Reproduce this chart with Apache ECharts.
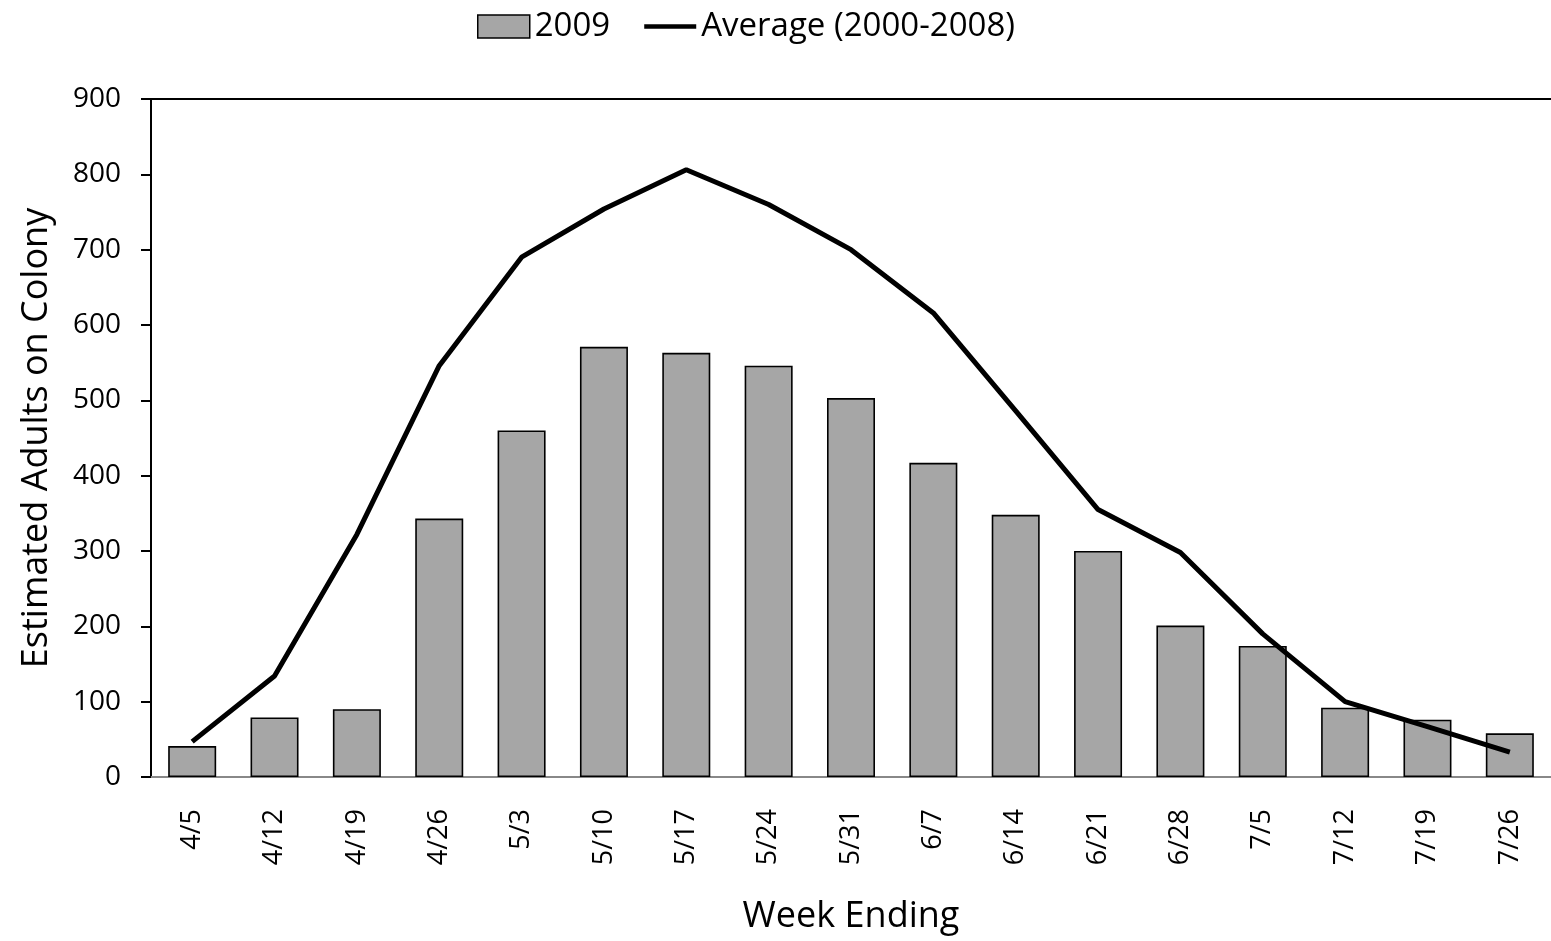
<!DOCTYPE html>
<html>
<head>
<meta charset="utf-8">
<script src="https://cdn.jsdelivr.net/npm/echarts@6/dist/echarts.min.js"></script>
<style>
html,body{margin:0;padding:0;background:#fff;}
#chart{width:1551px;height:941px;}
</style>
</head>
<body>
<div id="chart"></div>
<script>
var categories = ['4/5','4/12','4/19','4/26','5/3','5/10','5/17','5/24','5/31','6/7','6/14','6/21','6/28','7/5','7/12','7/19','7/26'];
var values2009 = [41, 79, 90, 343, 460, 571, 563, 546, 503, 417, 348, 300, 201, 174, 92, 76, 58];
var averageValues = [47, 134, 322, 546, 690, 754, 806, 760, 700, 616, 486, 355, 298, 190, 100, 67, 33];
var yTicks = [0, 100, 200, 300, 400, 500, 600, 700, 800, 900];

var FONT = '"Open Sans", sans-serif';
var chart = echarts.init(document.getElementById('chart'), null, {renderer: 'canvas'});
var splitColors = yTicks.map(function (v, i) { return i === yTicks.length - 1 ? '#000' : 'rgba(0,0,0,0)'; });

chart.setOption({
  backgroundColor: '#fff',
  animation: false,
  textStyle: {fontFamily: FONT},
  legend: {
    left: 472,
    top: 5,
    itemWidth: 52,
    itemHeight: 23,
    itemGap: 34,
    textStyle: {fontFamily: FONT, fontSize: 33, color: '#000'},
    data: [
      {name: '2009', icon: 'rect', itemStyle: {color: '#a6a6a6', borderColor: '#000', borderWidth: 1.5}},
      {name: 'Average (2000-2008)', icon: 'path://M0,0 L56,0 L56,5 L0,5 Z', itemStyle: {color: '#000', borderWidth: 0}}
    ]
  },
  grid: {left: 151, right: 0, top: 99, bottom: 164, containLabel: false},
  xAxis: {
    type: 'category',
    data: categories,
    name: 'Week Ending',
    nameLocation: 'middle',
    nameGap: 122,
    nameTextStyle: {fontFamily: FONT, fontSize: 36, color: '#000'},
    axisLine: {show: true, lineStyle: {color: '#888', width: 2}},
    axisTick: {show: false},
    axisLabel: {rotate: 90, margin: 32, fontFamily: FONT, fontSize: 27, color: '#000'}
  },
  yAxis: {
    type: 'value',
    min: 0,
    max: 900,
    interval: 100,
    name: 'Estimated Adults on Colony',
    nameLocation: 'middle',
    nameGap: 96,
    nameTextStyle: {fontFamily: FONT, fontSize: 36, color: '#000'},
    axisLine: {show: true, lineStyle: {color: '#000', width: 2}},
    axisTick: {show: true, length: 10, lineStyle: {color: '#000', width: 2}},
    axisLabel: {margin: 30, fontFamily: FONT, fontSize: 28, color: '#000'},
    splitLine: {show: true, lineStyle: {color: splitColors, width: 2}}
  },
  series: [
    {
      name: '2009',
      type: 'bar',
      data: values2009,
      barWidth: 48,
      itemStyle: {color: '#a6a6a6', borderColor: '#000', borderWidth: 1.6}
    },
    {
      name: 'Average (2000-2008)',
      type: 'line',
      data: averageValues,
      symbol: 'none',
      lineStyle: {color: '#000', width: 5},
      itemStyle: {color: '#000'}
    }
  ]
});
</script>
</body>
</html>
